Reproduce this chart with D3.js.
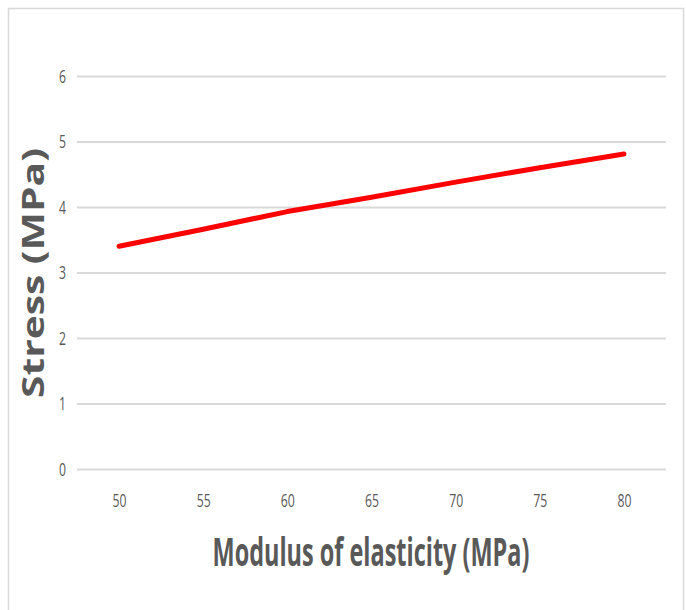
<!DOCTYPE html>
<html>
<head>
<meta charset="utf-8">
<script src="https://cdn.jsdelivr.net/npm/d3@7"></script>
<style>
html,body{margin:0;padding:0;background:#fff;}
svg{display:block;}
</style>
</head>
<body>
<svg id="chart" width="686" height="610"></svg>
<script>
const categories = [50, 55, 60, 65, 70, 75, 80];
const stress = [3.40, 3.66, 3.93, 4.15, 4.38, 4.60, 4.81];
const yTicks = [0, 1, 2, 3, 4, 5, 6];
const xTitle = "Modulus of elasticity (MPa)";
const yTitle = "Stress (MPa)";

const svg = d3.select("#chart");
const textColor = "#595959";
const font = "'Open Sans', sans-serif";

// outer frame
svg.append("path")
  .attr("d", "M8.5,612 V8.5 H683.5 V612")
  .attr("fill", "none").attr("stroke", "#d9d9d9").attr("stroke-width", 1.5);

const x = d3.scalePoint().domain(categories).range([77, 666]).padding(0.5);
const y = d3.scaleLinear().domain([0, 6]).range([469, 76]);

// grid lines via axis
const yAxis = svg.append("g").attr("transform", "translate(77,0)")
  .call(d3.axisLeft(y).tickValues(yTicks).tickSize(-589).tickPadding(11).tickFormat(d3.format("d")));
yAxis.select(".domain").remove();
yAxis.selectAll(".tick line").attr("stroke", "#d9d9d9").attr("stroke-width", 2);
yAxis.selectAll(".tick text")
  .attr("fill", textColor).attr("font-family", font).attr("font-size", 19)
  .attr("textLength", 7).attr("lengthAdjust", "spacingAndGlyphs");

const xAxis = svg.append("g").attr("transform", "translate(0,469)")
  .call(d3.axisBottom(x).tickSize(0).tickPadding(25));
xAxis.select(".domain").remove();
xAxis.selectAll(".tick text")
  .attr("fill", textColor).attr("font-family", font).attr("font-size", 19)
  .attr("textLength", 14).attr("lengthAdjust", "spacingAndGlyphs");

// line
const line = d3.line().x((d, i) => x(categories[i])).y(d => y(d));
svg.append("path").datum(stress)
  .attr("d", line)
  .attr("fill", "none").attr("stroke", "#ff0000")
  .attr("stroke-width", 5).attr("stroke-linecap", "round").attr("stroke-linejoin", "round");

// titles
const xt = svg.append("text")
  .attr("x", 0).attr("y", 0)
  .attr("text-anchor", "middle")
  .attr("font-family", font).attr("font-weight", "bold").attr("font-size", 40)
  .attr("fill", textColor)
  .text(xTitle);
const natural = xt.node().getComputedTextLength() || 317;
xt.attr("transform", `translate(371,566) scale(${317 / natural},1)`);

svg.append("text")
  .attr("transform", "translate(44,273) rotate(-90)")
  .attr("text-anchor", "middle")
  .attr("font-family", font).attr("font-weight", "bold").attr("font-size", 31)
  .attr("fill", textColor)
  .attr("textLength", 250).attr("lengthAdjust", "spacingAndGlyphs")
  .text(yTitle);
</script>
</body>
</html>
